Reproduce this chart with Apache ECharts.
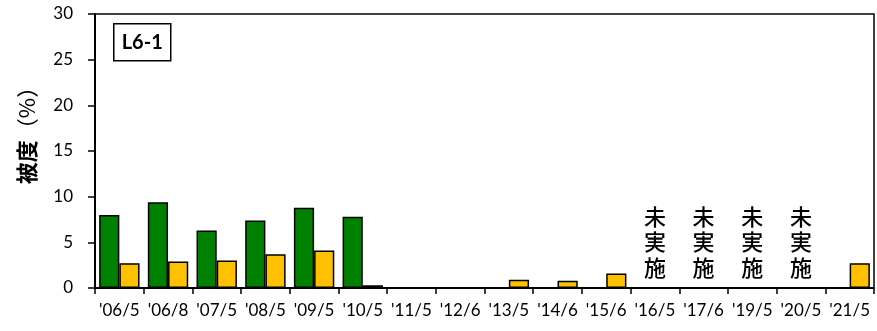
<!DOCTYPE html>
<html>
<head>
<meta charset="utf-8">
<script src="https://cdn.jsdelivr.net/npm/echarts@6/dist/echarts.min.js"></script>
<style>
  html, body { margin: 0; padding: 0; background: #fff; }
  #chart { width: 877px; height: 331px; }
</style>
</head>
<body>
<div id="chart"></div>
<script>
// Survey dates (year/month)
const categories = ["'06/5", "'06/8", "'07/5", "'08/5", "'09/5", "'10/5", "'11/5", "'12/6",
                    "'13/5", "'14/6", "'15/6", "'16/5", "'17/6", "'19/5", "'20/5", "'21/5"];
// Coverage (%) — green series
const greenCover = [8.0, 9.4, 6.3, 7.4, 8.8, 7.8, 0, 0, 0, 0, 0, null, null, null, null, 0];
// Coverage (%) — yellow series
const yellowCover = [2.7, 2.9, 3.0, 3.7, 4.1, 0.3, 0, 0, 0.9, 0.8, 1.6, null, null, null, null, 2.7];
// Surveys that were not carried out
const notSurveyed = ["'16/5", "'17/6", "'19/5", "'20/5"];
const notSurveyedText = '未\n実\n施';
// Y axis ticks
const yTicks = { min: 0, max: 30, interval: 5 };

const latinFont = 'Lato, "Noto Sans", sans-serif';
const cjkFont = '"Noto Sans CJK JP", sans-serif';

const chart = echarts.init(document.getElementById('chart'), null, { renderer: 'canvas' });

const option = {
  animation: false,
  backgroundColor: '#ffffff',
  grid: {
    left: 95, right: 3, top: 14, bottom: 43,
    show: true, borderColor: '#000', borderWidth: 1.5, backgroundColor: 'transparent'
  },
  xAxis: {
    type: 'category',
    data: categories,
    boundaryGap: true,
    axisLine: { lineStyle: { color: '#000', width: 2 } },
    axisTick: { show: true, inside: false, length: 6, alignWithLabel: false, lineStyle: { color: '#000', width: 1.5 } },
    axisLabel: { color: '#000', fontFamily: latinFont, fontSize: 17, margin: 14, interval: 0 },
    splitLine: { show: false }
  },
  yAxis: {
    type: 'value',
    min: yTicks.min, max: yTicks.max, interval: yTicks.interval,
    axisLine: { show: true, lineStyle: { color: '#000', width: 2 } },
    axisTick: { show: true, inside: false, length: 7, lineStyle: { color: '#000', width: 1.5 } },
    axisLabel: { color: '#000', fontFamily: latinFont, fontSize: 17, margin: 22 },
    splitLine: { show: false }
  },
  series: [
    {
      type: 'bar',
      data: greenCover,
      barGap: '0%',
      barCategoryGap: '17%',
      itemStyle: { color: '#008000', borderColor: '#000', borderWidth: 1.5 }
    },
    {
      type: 'bar',
      data: yellowCover,
      itemStyle: { color: '#FFC000', borderColor: '#000', borderWidth: 1.5 }
    },
    {
      type: 'scatter',
      symbolSize: 0,
      data: notSurveyed.map(c => [c, 5.05]),
      itemStyle: { opacity: 1 },
      label: {
        show: true,
        position: 'inside',
        formatter: notSurveyedText,
        color: '#000',
        fontFamily: cjkFont,
        fontWeight: 500,
        fontSize: 22,
        lineHeight: 25.5,
        align: 'center',
        verticalAlign: 'middle'
      },
      silent: true
    }
  ],
  graphic: [
    {
      type: 'group',
      left: 113, top: 23,
      children: [
        { type: 'rect', shape: { x: 0, y: 0, width: 57, height: 37 },
          style: { fill: '#fff', stroke: '#000', lineWidth: 1.5 } },
        { type: 'text', x: 28.5, y: 19,
          style: { text: 'L6-1', font: 'bold 20px ' + latinFont, fill: '#000',
                   align: 'center', verticalAlign: 'middle' } }
      ]
    },
    {
      type: 'text',
      x: 27, y: 130,
      rotation: Math.PI / 2,
      style: {
        text: '{b|被度}{n|（%）}',
        align: 'center', verticalAlign: 'middle',
        rich: {
          b: { font: 'bold 22px ' + cjkFont, fill: '#000' },
          n: { font: '22px ' + cjkFont, fill: '#000' }
        }
      }
    }
  ]
};

chart.setOption(option);
</script>
</body>
</html>
